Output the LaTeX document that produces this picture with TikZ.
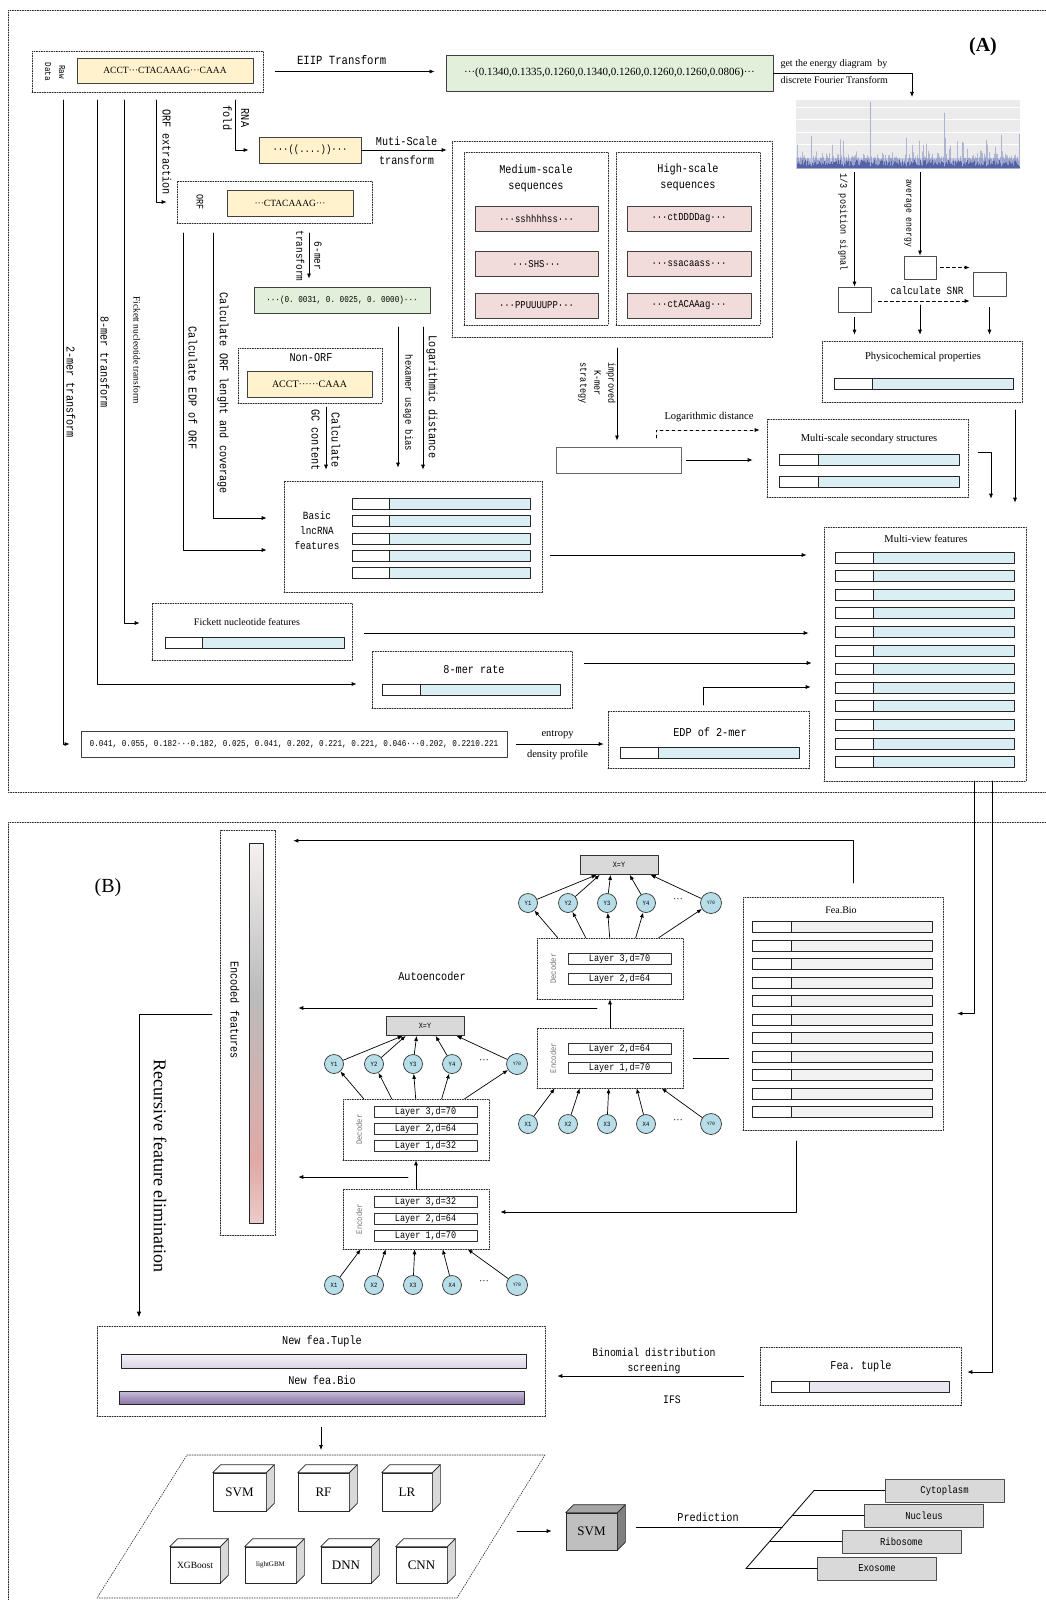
\documentclass[tikz,border=0pt]{standalone}
\usepackage{fontspec}
\setmainfont{Liberation Serif}
\setmonofont[FakeStretch=0.85]{Liberation Mono}
\usetikzlibrary{arrows.meta,positioning}
\definecolor{seqY}{HTML}{FFF2CC}
\definecolor{seqG}{HTML}{E2EFDA}
\definecolor{seqP}{HTML}{F2DCDB}
\definecolor{barB}{HTML}{DAEEF3}
\definecolor{nodeB}{HTML}{B7DEE8}
\definecolor{barG}{HTML}{F2F2F2}
\definecolor{boxG}{HTML}{D9D9D9}
\definecolor{specB}{HTML}{44549E}
\definecolor{specBg}{HTML}{EBEBEB}
\definecolor{tupleC}{HTML}{E9E5F1}
\definecolor{svmF}{HTML}{BFBFBF}
\definecolor{svmS}{HTML}{808080}
\definecolor{svmT}{HTML}{A6A6A6}
\definecolor{encT}{HTML}{F6F1F1}
\definecolor{encG}{HTML}{BBBBBB}
\definecolor{encP}{HTML}{E0A9A7}
\definecolor{encQ}{HTML}{EBCBC8}
\definecolor{tupT}{HTML}{F5F3F9}
\definecolor{tupB}{HTML}{DAD3E6}
\definecolor{bioT}{HTML}{CBC1DB}
\definecolor{bioM}{HTML}{A898C0}
\definecolor{bioB}{HTML}{8A78A6}
\pgfdeclareverticalshading{encsh}{100bp}{color(0bp)=(encQ); color(25bp)=(encQ); color(33bp)=(encP); color(55bp)=(encG); color(75bp)=(encT); color(100bp)=(encT)}
\newcommand\vecbar[5]{%
  \draw[barline,fill=#5] (#1,#4-5.5) rectangle (#3,#4+5.5);
  \draw[barline,fill=white] (#1,#4-5.5) rectangle (#2,#4+5.5);}
\newcommand\cubesides[3]{%
  \draw[cubeline,fill=#3] (#1.north west) -- ++(8,-8) -- ([shift={(8,-8)}]#1.north east) -- (#1.north east) -- cycle;
  \draw[cubeline,fill=#2] (#1.north east) -- ++(8,-8) -- ([shift={(8,-8)}]#1.south east) -- (#1.south east) -- cycle;}
\tikzset{
  arr/.style={-{Latex[length=5pt,width=4pt]},line width=0.7pt},
  dbox/.style={draw=black!85,dash pattern=on 1.2pt off 1.3pt,line width=0.6pt,inner sep=0pt},
  sbox/.style={draw=black!75,line width=0.8pt,inner sep=0pt},
  tt/.style={font=\ttfamily\fontsize{#1}{#1}\selectfont},
  rm/.style={font=\rmfamily\fontsize{#1}{#1}\selectfont},
  barline/.style={line width=0.8pt,draw=black!85},
  cubeline/.style={line width=0.7pt,draw=black!85},
  nd/.style={circle,draw=black!80,fill=nodeB,minimum size=19pt,inner sep=0pt,line width=0.7pt,tt=6.5},
  lay/.style={draw=black!80,line width=0.7pt,minimum width=103pt,minimum height=11pt,inner sep=0pt,tt=10},
  xyb/.style={draw=black!80,fill=boxG,line width=0.7pt,minimum width=78pt,minimum height=19pt,inner sep=0pt,tt=8},
  cube/.style={draw=black!85,fill=white,line width=0.7pt,inner sep=0pt},
  outb/.style={draw=black!70,fill=boxG,line width=0.8pt,minimum width=119pt,minimum height=23pt,inner sep=0pt,tt=10.5},
}
\begin{document}
\begin{tikzpicture}[x=1pt,y=-1pt,line cap=round,line join=round]
 \useasboundingbox (0,0) rectangle (1046,1600);
 \draw[dbox] (1046,10) -- (8,10) -- (8,792) -- (1046,792);
 \draw[dbox] (1046,822) -- (8,822) -- (8,1600);
 \node[font=\bfseries\fontsize{20}{20}\selectfont] (pa) at (983,47) {(A)};
 \node[rm=20] (pb) at (108,888) {(B)};

 \node[dbox,minimum width=231pt,minimum height=41pt] (raw) at (147.5,71.5) {};
 \node[tt=9,rotate=-90,align=center] (rawlbl) at (55,72) {Raw\\[5pt]Data};
 \node[sbox,fill=seqY,minimum width=176pt,minimum height=25pt,rm=9.5] (rawseq) at (165,70.5) {ACCT···CTACAAAG···CAAA};
 \node[sbox,fill=seqG,minimum width=327pt,minimum height=36pt,rm=11] (eiip) at (609.5,73) {···(0.1340,0.1335,0.1260,0.1340,0.1260,0.1260,0.1260,0.0806)···};
 \draw[arr,shorten <=12pt,shorten >=11pt] (raw.east) -- (raw.east -| eiip.west) node[pos=0.43,above=3pt,tt=12.5] (teiip) {EIIP Transform};
 \node[anchor=west,align=left,rm=10] (tdft) at (777,71.5) {get the energy diagram\ \ by\\[7pt]discrete Fourier Transform};

 \node[fill=specBg,minimum width=224pt,minimum height=69pt,inner sep=0pt] (spec) at (908,134.5) {};
 \foreach \gy in {107,119,132,144} \draw[white,line width=0.7pt] (796,\gy) -- (1020,\gy);
 \fill[specB!30] (796,158) rectangle (1020,169);
 \pgfmathsetseed{11}
 \foreach \i in {0,...,222}{
  \pgfmathsetmacro\hh{5+8*rnd+18*rnd^6}
  \pgfmathsetmacro\hl{2+6*rnd}
  \draw[specB,line width=0.6pt,opacity=0.35] (797+\i,168) -- ++(0,-\hh);
  \draw[specB,line width=0.6pt,opacity=0.8] (797+\i,168) -- ++(0,-\hl);
 }
 \foreach \sx/\sy in {870/102,944/113,811/136,906/138,986/140,1001/135,843/141,962/142,1019/134}
  \draw[specB!45,line width=0.5pt] (\sx,166) -- (\sx,\sy);
 \coordinate (dft) at (912,97);
 \draw[arr] (eiip.east) -| (dft);

 \node[sbox,draw=black!70,minimum width=33pt,minimum height=25pt] (pos) at (854.5,299.5) {};
 \node[sbox,draw=black!70,minimum width=32pt,minimum height=23pt] (avg) at (920,267.5) {};
 \node[sbox,draw=black!70,minimum width=33pt,minimum height=24pt] (snr) at (989.5,284) {};
 \draw[arr] (pos.north |- spec.south) ++(0,3) -- (pos.north);
 \draw[arr] (avg.north |- spec.south) ++(0,3) -- (avg.north);
 \node[tt=10,rotate=-90] (tpos) at (843,222) {1/3 position signal};
 \node[tt=9.5,rotate=-90] (tavg) at (908,213) {average energy};
 \draw[arr,dashed,shorten <=4pt,shorten >=3pt] (avg.east) -- (avg.east -| snr.west);
 \draw[arr,dashed,shorten <=7pt,shorten >=3pt] ([yshift=-1.5pt]pos.east) -- ([yshift=-1.5pt]pos.east -| snr.west);
 \node[tt=11] (tsnr) at (927,291) {calculate SNR};

 \node[dbox,minimum width=200pt,minimum height=61pt] (phys) at (922,371.5) {};
 \node[rm=10.5] (tphys) at (923,357) {Physicochemical properties};
 \vecbar{834}{872}{1013}{383.5}{barB}
 \coordinate (cavg) at (920,305);
 \draw[arr,shorten <=5pt,shorten >=6pt] (pos.south) -- (pos.south |- phys.north);
 \draw[arr,shorten >=6pt] (cavg) -- (cavg |- phys.north);
 \draw[arr,shorten <=11pt,shorten >=6pt] (snr.south) -- (snr.south |- phys.north);

 \node[sbox,fill=seqY,minimum width=102pt,minimum height=26pt,tt=10.5] (rnass) at (310,150) {···((....))···};
 \coordinate (crna) at (235,100);
 \draw[arr,shorten >=10pt] (crna) |- (rnass.west);
 \node[tt=12,rotate=-90,align=center] (trna) at (236,118) {RNA\\[6pt]fold};
 \node[dbox,minimum width=320pt,minimum height=196pt] (msbox) at (612,239) {};
 \draw[arr,shorten >=5pt] (rnass.east) -- (rnass.east -| msbox.west) node[midway,above=1pt,tt=12] (tms1) {Muti-Scale} node[midway,below=2pt,tt=12] (tms2) {transform};
 \node[dbox,minimum width=144pt,minimum height=173pt] (medbox) at (536,238.5) {};
 \node[dbox,minimum width=144pt,minimum height=173pt] (highbox) at (688,238.5) {};
 \node[tt=12,align=center] (tmed) at (536,178) {Medium-scale\\[4pt]sequences};
 \node[tt=12,align=center] (thigh) at (688,177) {High-scale\\[4pt]sequences};
 \foreach \nn/\yy/\ma/\hi in {1/218.5/{···sshhhhss···}/{···ctDDDDag···},2/264/{···SHS···}/{···ssacaass···},3/305.5/{···PPUUUUPP···}/{···ctACAAag···}}{
  \node[sbox,fill=seqP,minimum width=123pt,minimum height=25pt,tt=10.5] (med\nn) at (536.5,\yy) {\ma};
  \node[sbox,fill=seqP,minimum width=124pt,minimum height=25pt,tt=10.5] (high\nn) at (689,\yy) {\hi};
 }

 \coordinate (corf) at (156,100);
 \node[dbox,minimum width=195pt,minimum height=42pt] (orf) at (274.5,202) {};
 \node[tt=10,rotate=-90] (torf) at (200,202) {ORF};
 \node[sbox,fill=seqY,minimum width=126pt,minimum height=26pt,rm=9.5] (orfseq) at (290,203) {···CTACAAAG···};
 \draw[arr,shorten >=10pt] (corf) |- (orf.west);
 \node[tt=12,rotate=-90] (torfx) at (167,152) {ORF extraction};

 \coordinate (c6) at (309,233);
 \node[sbox,fill=seqG,minimum width=176pt,minimum height=26pt,tt=9] (k6) at (342,300) {···(0. 0031, 0. 0025, 0. 0000)···};
 \draw[arr,shorten >=8pt] (c6) -- (c6 |- k6.north);
 \node[tt=11,rotate=-90,align=center] (t6) at (309,256) {6-mer\\[7pt]transform};

 \node[dbox,minimum width=144pt,minimum height=55pt] (nonorf) at (310,375.5) {};
 \node[tt=12] (tnon) at (311,358) {Non-ORF};
 \node[sbox,fill=seqY,minimum width=125pt,minimum height=26pt,rm=10] (nonseq) at (309.5,384) {ACCT······CAAA};

 \node[dbox,minimum width=258pt,minimum height=111pt] (basic) at (413,536.5) {};
 \node[tt=11,align=center] (tbasic) at (317,531) {Basic\\[4pt]lncRNA\\[4pt]features};
 \foreach \i in {0,...,4}{\vecbar{352}{389}{530}{504+17.2*\i}{barB}}

 \coordinate (cgc) at (326,407);
 \draw[arr,shorten >=11pt] (cgc) -- (cgc |- basic.north);
 \node[tt=12,rotate=-90,align=center] (tgc) at (326,440) {Calculate\\[8pt]GC content};
 \coordinate (chex) at (398,327);
 \coordinate (clog2) at (423,327);
 \draw[arr,shorten >=13pt] (chex) -- (chex |- basic.north);
 \draw[arr,shorten >=11pt] (clog2) -- (clog2 |- basic.north);
 \node[tt=10.5,rotate=-90] (thex) at (408,403) {hexamer usage bias};
 \node[tt=12,rotate=-90] (tlog) at (432,397) {Logarithmic distance};

 \coordinate (c2) at (63,100);
 \coordinate (c8) at (97,100);
 \coordinate (cfk) at (124,100);
 \coordinate (cedpo) at (183,233);
 \coordinate (clen) at (213,233);
 \draw[arr,shorten >=17pt] (cedpo) |- ([yshift=-13.5pt]basic.west);
 \draw[arr,shorten >=17pt] (clen) |- ([yshift=18.5pt]basic.west);
 \node[tt=12,rotate=-90] (tedpo) at (193,388) {Calculate EDP of ORF};
 \node[tt=12,rotate=-90] (tlen) at (223,393) {Calculate ORF lenght and coverage};
 \node[tt=12,rotate=-90] (t2) at (71,392) {2-mer transform};
 \node[tt=12,rotate=-90] (t8) at (105,362) {8-mer transform};
 \node[rm=9.5,rotate=-90] (tfk) at (137,350) {Fickett nucleotide transform};

 \node[sbox,draw=black!60,minimum width=125pt,minimum height=26pt] (emptyb) at (618.5,460) {};
 \coordinate (ckm) at (617,348);
 \draw[arr,shorten >=6pt] (ckm) -- (ckm |- emptyb.north);
 \node[tt=10,rotate=-90,align=center] (tkm) at (597,383) {improved\\[4pt]K-mer\\[4pt]strategy};
 \node[dbox,minimum width=201pt,minimum height=78pt] (msec) at (867.5,458) {};
 \node[rm=10.5] (tmsec) at (869,439) {Multi-scale secondary structures};
 \vecbar{779}{818}{959}{460}{barB}
 \vecbar{779}{818}{959}{481.5}{barB}
 \draw[arr,shorten <=5pt,shorten >=14pt] (emptyb.east) -- (emptyb.east -| msec.west);
 \coordinate (clog) at (656,438);
 \draw[arr,dashed,shorten >=7pt] (clog) |- ([yshift=28pt]msec.west);
 \node[rm=10.5] (tlogd) at (709,417) {Logarithmic distance};

 \node[dbox,minimum width=202pt,minimum height=254pt] (mv) at (925,654) {};
 \node[rm=10.5] (tmv) at (926,539) {Multi-view features};
 \foreach \i in {0,...,11}{\vecbar{835}{873}{1014}{557.5+18.6*\i}{barB}}
 \coordinate (cphys) at (1015,410);
 \draw[arr,shorten >=24pt] (cphys) -- (cphys |- mv.north);
 \draw[arr,shorten >=28pt] ([xshift=10pt,yshift=6pt]msec.east) -| ([xshift=66pt]mv.north);
 \draw[arr,shorten <=8pt,shorten >=17pt] ([yshift=-18.5pt]basic.east) -- ([yshift=-18.5pt]basic.east -| mv.west);

 \node[dbox,minimum width=200pt,minimum height=57pt] (fick) at (252,631.5) {};
 \node[rm=10] (tfick) at (247,622) {Fickett nucleotide features};
 \vecbar{165}{202}{344}{642.5}{barB}
 \draw[arr,shorten >=12pt] (cfk) |- ([yshift=8.5pt]fick.west);
 \draw[arr,shorten <=12pt,shorten >=15pt] ([yshift=-1.5pt]fick.east) -- ([yshift=-1.5pt]fick.east -| mv.west);

 \node[dbox,minimum width=200pt,minimum height=57pt] (kmer8) at (472,679.5) {};
 \node[tt=12] (tk8) at (474,670) {8-mer rate};
 \vecbar{382}{420}{560}{689.5}{barB}
 \draw[arr,shorten >=15pt] (c8) |- ([yshift=-4.5pt]kmer8.west);
 \draw[arr,shorten <=12pt,shorten >=12pt] ([yshift=16.5pt]kmer8.east) -- ([yshift=16.5pt]kmer8.east -| mv.west);

 \node[sbox,minimum width=426pt,minimum height=26pt,tt=9] (vals) at (294,744) {0.041, 0.055, 0.182···0.182, 0.025, 0.041, 0.202, 0.221, 0.221, 0.046···0.202, 0.2210.221};
 \draw[arr,shorten >=11pt] (c2) |- (vals.west);
 \node[dbox,minimum width=201pt,minimum height=57pt] (edp2) at (708.5,739.5) {};
 \node[tt=12] (tedp2) at (710,732) {EDP of 2-mer};
 \vecbar{620}{658}{799}{752.5}{barB}
 \draw[arr,shorten <=9pt,shorten >=4pt] (vals.east) -- (vals.east -| edp2.west) node[midway,above=2pt,rm=10.5] (tent) {entropy} node[midway,below=2pt,rm=10.5] (tdens) {density profile};
 \coordinate (cedp) at (703,705);
 \draw[arr,shorten >=13pt] (cedp) |- ([yshift=-33pt]mv.west);

 \node[dbox,minimum width=55pt,minimum height=405pt] (encf) at (247.5,1032.5) {};
 \shade[shading=encsh] (249,843) rectangle (263,1223);
 \draw[barline] (249,843) rectangle (263,1223);
 \node[tt=12,rotate=-90] (tencf) at (235,1010) {Encoded features};
 \coordinate (crfe) at (212,1014);
 \coordinate (crfe2) at (139,1317);
 \draw[arr] (crfe) -| (crfe2);
 \node[rm=18,rotate=-90] (trfe) at (160,1166) {Recursive feature elimination};
 \node[tt=12] (tae) at (432,976) {Autoencoder};

 \foreach \ii/\dxx/\dyy in {a/0/0,b/194/-161}{
  \begin{scope}[shift={(\dxx,\dyy)}]
   \node[xyb] (xy\ii) at (425,1026) {X=Y};
   \node[dbox,minimum width=146pt,minimum height=61pt] (dec\ii) at (416,1129.5) {};
   \node[dbox,minimum width=146pt,minimum height=60pt] (enc\ii) at (416,1219) {};
   \node[tt=8.5,text=black!55,rotate=90] (tdec\ii) at (359,1129.5) {Decoder};
   \node[tt=8.5,text=black!55,rotate=90] (tenc\ii) at (359,1219) {Encoder};
   \foreach \nn/\px/\lbl in {1/334/X1,2/374/X2,3/413/X3,4/452/X4}{
    \node[nd] (y\ii\nn) at (\px,1064) {Y\nn};
    \node[nd] (x\ii\nn) at (\px,1285) {\lbl};
   }
   \node[nd,minimum size=21pt,tt=5] (y\ii70) at (517,1064) {Y70};
   \node[nd,minimum size=21pt,tt=5] (x\ii70) at (517,1285) {Y70};
   \node[rm=10] (ydots\ii) at (484,1062) {···};
   \node[rm=10] (xdots\ii) at (484,1283) {···};
   \foreach \nn/\oa/\ob/\oc in {1/18/21/17,2/43/49/20,3/72/73/31,4/100/99/50,70/125/122/71}{
    \draw[arr] (x\ii\nn) -- ([xshift=\oa pt]enc\ii.south west);
    \draw[arr] ([xshift=\ob pt]dec\ii.north west) -- (y\ii\nn);
    \draw[arr] (y\ii\nn) -- ([xshift=\oc pt]xy\ii.south west);
   }
   \draw[arr] (enc\ii.north) -- (dec\ii.south);
  \end{scope}
 }
 \node[lay] (la3) at (425.5,1112) {Layer 3,d=70};
 \node[lay] (la2) at (425.5,1129) {Layer 2,d=64};
 \node[lay] (la1) at (425.5,1146) {Layer 1,d=32};
 \node[lay] (lb3) at (425.5,1202) {Layer 3,d=32};
 \node[lay] (lb2) at (425.5,1219) {Layer 2,d=64};
 \node[lay] (lb1) at (425.5,1236) {Layer 1,d=70};
 \node[lay] (lc3) at (619.5,959) {Layer 3,d=70};
 \node[lay] (lc2) at (619.5,979) {Layer 2,d=64};
 \node[lay] (ld2) at (619.5,1049) {Layer 2,d=64};
 \node[lay] (ld1) at (619.5,1068) {Layer 1,d=70};
 \coordinate (ae2out) at (597,1008);
 \coordinate (ae1out) at (408,1177);
 \draw[arr,shorten >=23pt] (ae2out) -- (ae2out -| encf.east);
 \draw[arr,shorten >=23pt] (ae1out) -- (ae1out -| encf.east);

 \node[dbox,minimum width=200pt,minimum height=233pt] (feabio) at (843,1013.5) {};
 \node[rm=10] (tfeabio) at (841,910) {Fea.Bio};
 \foreach \i in {0,...,10}{\vecbar{752}{791}{932}{927+18.5*\i}{barG}}
 \coordinate (fbtop) at (853,883);
 \draw[arr,shorten >=18pt] (fbtop) |- ([yshift=-11pt]encf.north east);
 \draw[line width=0.7pt,shorten <=10pt,shorten >=14pt] (encb.east) -- (encb.east -| feabio.west);
 \coordinate (fbbot) at (796,1141);
 \draw[arr,shorten >=11pt] (fbbot) |- ([yshift=7pt]enca.east);
 \coordinate (dropa) at (974,781);
 \coordinate (dropb) at (992,781);
 \draw[arr,shorten >=14pt] (dropa) |- (feabio.east);

 \node[dbox,minimum width=448pt,minimum height=90pt] (newfea) at (321,1371) {};
 \node[tt=12] (tnt) at (322,1341) {New fea.Tuple};
 \shade[top color=tupT,bottom color=tupB] (121,1354) rectangle (526,1368);
 \draw[barline] (121,1354) rectangle (526,1368);
 \node[tt=12] (tnb) at (322,1380) {New fea.Bio};
 \shade[top color=bioT,bottom color=bioB,middle color=bioM] (119,1391) rectangle (524,1404);
 \draw[barline] (119,1391) rectangle (524,1404);
 \draw[arr,shorten >=9pt] (crfe2) ++(0,-9) -- (crfe2 |- newfea.north);

 \node[dbox,minimum width=201pt,minimum height=58pt] (featup) at (860.5,1376) {};
 \node[tt=12] (tft) at (861,1366) {Fea. tuple};
 \vecbar{771}{809}{949}{1386.5}{tupleC}
 \draw[arr,shorten >=6pt] (dropb) |- ([yshift=4pt]featup.east);
 \draw[arr,shorten <=16pt,shorten >=12pt] (featup.west) -- (featup.west -| newfea.east);
 \node[tt=11.5,align=center] (tbin) at (654,1361) {Binomial distribution\\[3pt]screening};
 \node[tt=11.5] (tifs) at (672,1400) {IFS};

 \draw[dbox] (187,1455) -- (545,1455) -- (457,1598) -- (97,1598) -- cycle;
 \coordinate (plat) at (321,1450);
 \draw[arr] ([yshift=-11pt]newfea.south) -- (plat);
 \foreach \nm/\cx/\cy/\w/\h/\fnt/\lbl in {csvm/239.5/1492/53/38/13/SVM,crf/323.5/1492/51/38/13/RF,clr/407/1492/50/38/13/LR,cxgb/195/1565/50/36/9.5/XGBoost,clgb/270.5/1565/51/36/7/lightGBM,cdnn/346/1565/50/36/13/DNN,ccnn/421.5/1565/51/36/13/CNN}{
  \node[cube,minimum width=\w pt,minimum height=\h pt,rm=\fnt] (\nm) at (\cx,\cy) {\lbl};
  \cubesides{\nm}{boxG}{white}
 }
 \node[cube,fill=svmF,minimum width=51pt,minimum height=37pt,rm=13] (svmc) at (591.5,1531.5) {SVM};
 \cubesides{svmc}{svmS}{svmT}
 \coordinate (platr) at (517,1531);
 \draw[arr,shorten >=14pt] (platr) -- (platr -| svmc.west);

 \node[outb] (cyto) at (944.5,1490.5) {Cytoplasm};
 \node[outb] (nucl) at (924,1515.5) {Nucleus};
 \node[outb] (ribo) at (901.5,1541.5) {Ribosome};
 \node[outb] (exo) at (877,1568.5) {Exosome};
 \coordinate (fant) at (814,1490.5);
 \coordinate (fan2) at (792.2,1515.5);
 \coordinate (fan3) at (769.5,1541.5);
 \coordinate (fanb) at (746,1568.5);
 \coordinate (predp) at (782.2,1527);
 \draw[line width=0.8pt] (fant) -- (fanb);
 \draw[line width=0.8pt] (fant) -- (cyto.west);
 \draw[line width=0.8pt] (fan2) -- (nucl.west);
 \draw[line width=0.8pt] (fan3) -- (ribo.west);
 \draw[line width=0.8pt] (fanb) -- (exo.west);
 \draw[line width=0.8pt,shorten <=19pt] (predp -| svmc.east) -- (predp) node[pos=0.55,above=2pt,tt=12] (tpred) {Prediction};
\end{tikzpicture}
\end{document}
